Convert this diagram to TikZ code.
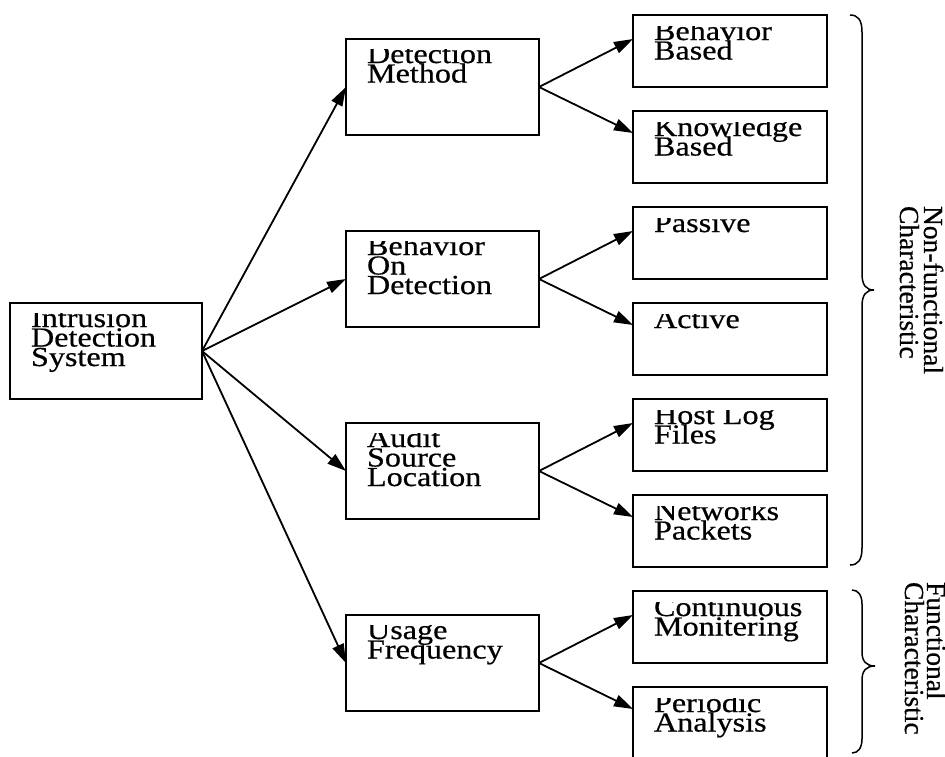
\documentclass[tikz,border=0pt]{standalone}
\usepackage{fontspec}
\setmainfont{Liberation Serif}[FakeBold=0.6]
\newfontfamily\boxfont[FakeStretch=1.17,FakeBold=0.6]{Liberation Serif}
\usetikzlibrary{arrows.meta,calc}
\newcommand\btext[1]{\vtop{\boxfont\fontsize{27.5pt}{19.5pt}\selectfont\lineskiplimit=-60pt\lineskip=0pt\halign{##\hfil\cr#1\crcr}}}
\newcommand\rtext[2]{\vtop{\fontsize{27.5pt}{#1}\selectfont\lineskiplimit=-60pt\lineskip=0pt\halign{##\hfil\cr#2\crcr}}}
\tikzset{
  boxst/.style={draw, line width=1.5pt, inner sep=0pt, outer sep=0pt, anchor=north west},
  arr/.style={line width=1.8pt, -{Triangle[length=19pt,width=12pt]}},
  bracest/.style={line width=1.5pt},
  lbl/.style={inner sep=0pt, outer sep=0pt, anchor=base west}
}
% #1 name, #2 left, #3 top, #4 width, #5 height, #6 baseline offset, #7 text
\newcommand\tbox[7]{%
  \node[boxst, minimum width=#4pt, minimum height=#5pt] (#1) at (#2,#3) {};
  \begin{scope}
    \clip (#2,#3+#6-14) rectangle (#2+#4,#3+#5);
    \node[lbl] (t#1) at (#2+21,#3+#6) {\btext{#7}};
  \end{scope}}
\begin{document}
\begin{tikzpicture}[x=1pt,y=-1pt]
\useasboundingbox (0,0) rectangle (945,756);
% root
\tbox{ids}{10}{303}{192}{96}{24}{Intrusion\cr Detection\cr System}
% middle column
\tbox{m1}{346}{39}{193}{96}{24}{Detection\cr Method}
\tbox{m2}{346}{231}{193}{96}{24}{Behavior\cr On\cr Detection}
\tbox{m3}{346}{423}{193}{96}{24}{Audit\cr Source\cr Location}
\tbox{m4}{346}{615}{193}{96}{24}{Usage\cr Frequency}
% right column
\tbox{r1}{633}{15}{194}{72}{25}{Behavior\cr Based}
\tbox{r2}{633}{111}{194}{72}{25}{Knowledge\cr Based}
\tbox{r3}{633}{207}{194}{72}{25}{Passive}
\tbox{r4}{633}{303}{194}{72}{25}{Active}
\tbox{r5}{633}{399}{194}{72}{25}{Host Log\cr Files}
\tbox{r6}{633}{495}{194}{72}{25}{Networks\cr Packets}
\tbox{r7}{633}{591}{194}{72}{25}{Continuous\cr Monitering}
\tbox{r8}{633}{687}{194}{72}{25}{Periodic\cr Analysis}
% connectors root -> middle
\foreach \m in {m1,m2,m3,m4}{\draw[arr] (ids.east) -- (\m.west);}
% connectors middle -> right
\draw[arr] (m1.east) -- ($(r1.north west)+(0,24)$);
\draw[arr] (m1.east) -- ($(r2.north west)+(0,22)$);
\draw[arr] (m2.east) -- ($(r3.north west)+(0,24)$);
\draw[arr] (m2.east) -- ($(r4.north west)+(0,22)$);
\draw[arr] (m3.east) -- ($(r5.north west)+(0,24)$);
\draw[arr] (m3.east) -- ($(r6.north west)+(0,22)$);
\draw[arr] (m4.east) -- ($(r7.north west)+(0,24)$);
\draw[arr] (m4.east) -- ($(r8.north west)+(0,22)$);
% braces
\draw[bracest] (850,15) .. controls (858,15) and (862,20) .. (862,32) -- (862,274)
  .. controls (862,285) and (866,290) .. (874,290)
  .. controls (866,290) and (862,295) .. (862,306) -- (862,548)
  .. controls (862,560) and (858,565) .. (850,565);
\draw[bracest] (852,590) .. controls (858,590) and (862,595) .. (862,604) -- (862,652)
  .. controls (862,661) and (866,666) .. (875,666)
  .. controls (866,666) and (862,671) .. (862,680) -- (862,739)
  .. controls (862,748) and (858,753) .. (852,753);
% labels
\node[lbl, rotate=-90] (nf) at (924,206) {\rtext{24pt}{Non-functional\cr Characteristic}};
\node[lbl, rotate=-90] (fc) at (927,582) {\rtext{22pt}{Functional\cr Characteristic}};
\end{tikzpicture}
\end{document}
